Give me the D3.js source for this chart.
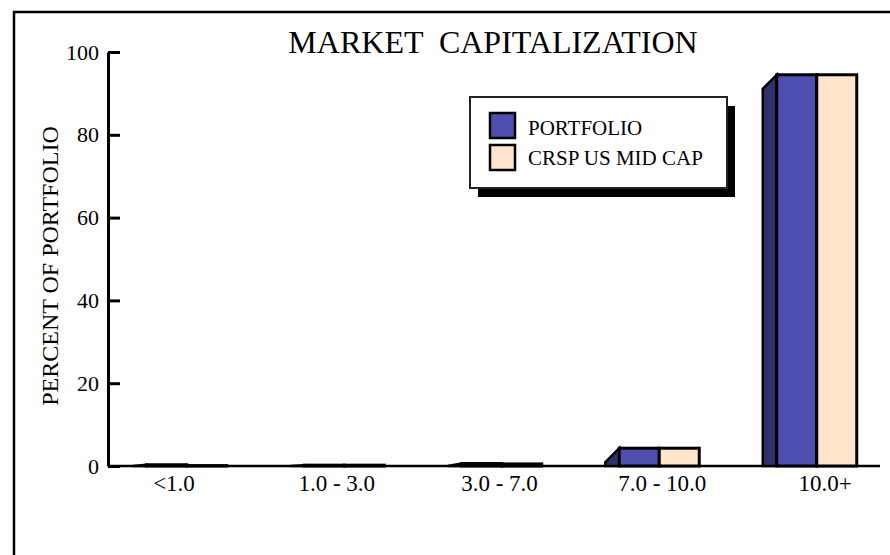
<!DOCTYPE html>
<html>
<head>
<meta charset="utf-8">
<script src="https://cdn.jsdelivr.net/npm/d3@7"></script>
<style>
  body { margin: 0; background: #fff; }
  svg { display: block; font-family: "Liberation Serif", "Times New Roman", serif; }
  svg text { font-family: "Liberation Serif", "Times New Roman", serif; }
</style>
</head>
<body>
<div id="chart"></div>
<script>
// chart data
var categories = ["<1.0", "1.0 - 3.0", "3.0 - 7.0", "7.0 - 10.0", "10.0+"];
var portfolio = [0.3, 0.2, 0.6, 4.3, 94.5];
var crspMidCap = [0.1, 0.2, 0.5, 4.3, 94.5];
var seriesNames = ["PORTFOLIO", "CRSP US MID CAP"];
var yTicks = [0, 20, 40, 60, 80, 100];

var colors = { portfolio: "#4f4fb1", side: "#30306b", crsp: "#ffe5cc" };

var width = 890, height = 555;
var svg = d3.select("#chart").append("svg")
    .attr("width", width)
    .attr("height", height);

// outer frame (runs off the right and bottom)
svg.append("path")
    .attr("d", "M14,560 L14,12 L900,12")
    .attr("fill", "none")
    .attr("stroke", "#000")
    .attr("stroke-width", 2.5);

var x = d3.scaleBand()
    .domain(categories)
    .range([108, 895.5]);
var xLabel = d3.scalePoint()
    .domain(categories)
    .range([174, 825]);
var y = d3.scaleLinear()
    .domain([0, 100])
    .range([466, 52]);

var barW = 40, depth = 14;

// y axis
var yAxis = svg.append("g")
    .attr("transform", "translate(108,0)")
    .call(d3.axisLeft(y).tickValues(yTicks).tickSizeInner(-12).tickSizeOuter(0).tickPadding(9));
yAxis.select(".domain").attr("stroke-width", 3);
yAxis.selectAll(".tick line").attr("stroke-width", 3);
yAxis.selectAll(".tick text")
    .attr("font-size", 22)
    .attr("fill", "#000");

// x axis line
svg.append("line")
    .attr("x1", 108).attr("x2", 880)
    .attr("y1", y(0)).attr("y2", y(0))
    .attr("stroke", "#000")
    .attr("stroke-width", 2.5);

svg.selectAll(".xlabel")
    .data(categories)
    .enter().append("text")
    .attr("class", "xlabel")
    .attr("x", function (d) { return xLabel(d); })
    .attr("y", 491)
    .attr("text-anchor", "middle")
    .attr("font-size", 23)
    .text(function (d) { return d; });

// bars
var bars = svg.selectAll(".pair")
    .data(categories)
    .enter().append("g")
    .attr("class", "pair");

bars.each(function (d, i) {
    var g = d3.select(this);
    var cx = x(d) + x.bandwidth() / 2;
    var x0 = cx - barW;
    var top = y(portfolio[i]);
    var base = y(0);
    var sideTop = Math.min(top + depth, base);
    // side face
    g.append("path")
        .attr("d", "M" + x0 + "," + top + " L" + (x0 - depth) + "," + sideTop +
            " L" + (x0 - depth) + "," + base + " L" + x0 + "," + base + "Z")
        .attr("fill", colors.side)
        .attr("stroke", "#000")
        .attr("stroke-width", 2.5)
        .attr("stroke-linejoin", "miter");
    g.append("rect")
        .attr("x", x0)
        .attr("y", top)
        .attr("width", barW)
        .attr("height", base - top)
        .attr("fill", colors.portfolio)
        .attr("stroke", "#000")
        .attr("stroke-width", 3);
    var top2 = y(crspMidCap[i]);
    g.append("rect")
        .attr("x", cx)
        .attr("y", top2)
        .attr("width", barW)
        .attr("height", base - top2)
        .attr("fill", colors.crsp)
        .attr("stroke", "#000")
        .attr("stroke-width", 3);
});

// y title
svg.append("text")
    .attr("transform", "translate(58,266) rotate(-90)")
    .attr("text-anchor", "middle")
    .attr("font-size", 24)
    .text("PERCENT OF PORTFOLIO");

// title
svg.append("text")
    .attr("x", 493)
    .attr("y", 53)
    .attr("text-anchor", "middle")
    .attr("font-size", 32)
    .style("white-space", "pre")
    .text("MARKET  CAPITALIZATION");

// legend
var legend = svg.append("g").attr("transform", "translate(470,97)");
legend.append("rect")
    .attr("x", 8).attr("y", 9)
    .attr("width", 257).attr("height", 91)
    .attr("fill", "#000");
legend.append("rect")
    .attr("x", 0).attr("y", 0)
    .attr("width", 257).attr("height", 91)
    .attr("fill", "#fff")
    .attr("stroke", "#222")
    .attr("stroke-width", 2);
var legendColors = [colors.portfolio, colors.crsp];
seriesNames.forEach(function (name, i) {
    legend.append("rect")
        .attr("x", 20).attr("y", 16 + i * 32)
        .attr("width", 25).attr("height", 25)
        .attr("fill", legendColors[i])
        .attr("stroke", "#000")
        .attr("stroke-width", 2.5);
    legend.append("text")
        .attr("x", 58).attr("y", 38 + i * 30)
        .attr("font-size", 21)
        .text(name);
});
</script>
</body>
</html>
